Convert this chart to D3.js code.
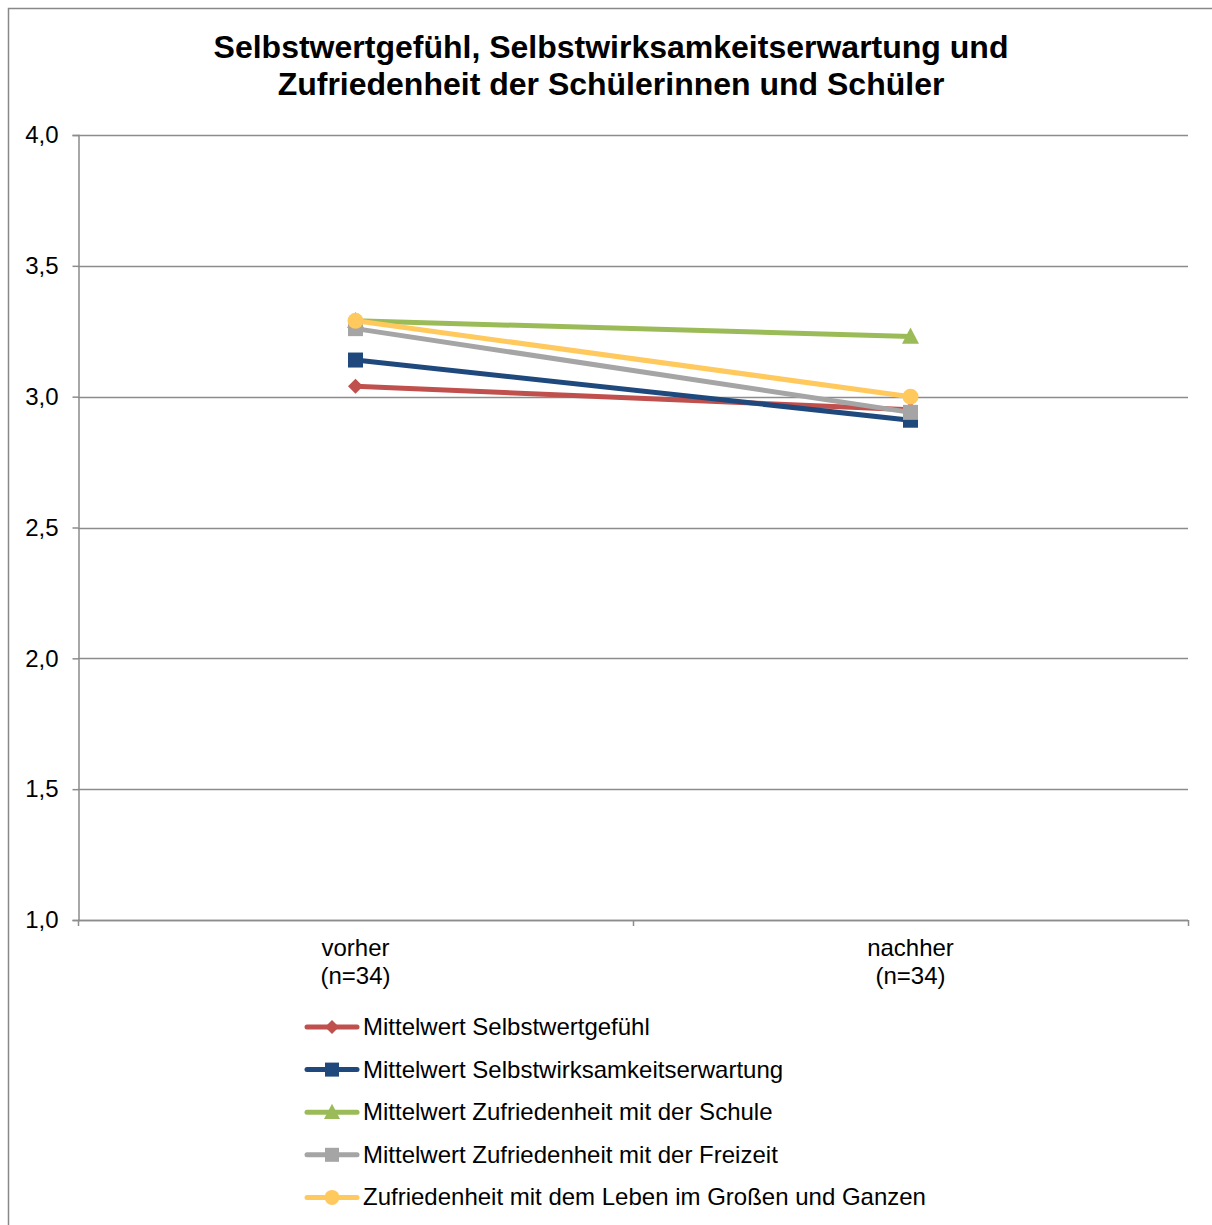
<!DOCTYPE html>
<html>
<head>
<meta charset="utf-8">
<script src="https://cdn.jsdelivr.net/npm/d3@7"></script>
<style>
  html, body { margin: 0; padding: 0; background: #fff; }
  svg { display: block; font-family: "Liberation Sans", Arial, sans-serif; }
</style>
</head>
<body>
<svg id="chart" width="1212" height="1225"></svg>
<script>
// Categories (two lines per label)
const categories = ["vorher (n=34)", "nachher (n=34)"];
const categoryLines = [["vorher", "(n=34)"], ["nachher", "(n=34)"]];

// Series names and mean values
const seriesNames = [
  "Mittelwert Selbstwertgefühl",
  "Mittelwert Selbstwirksamkeitserwartung",
  "Mittelwert Zufriedenheit mit der Schule",
  "Mittelwert Zufriedenheit mit der Freizeit",
  "Zufriedenheit mit dem Leben im Großen und Ganzen"
];
const selbstwert = [3.04, 2.95];
const selbstwirksamkeit = [3.14, 2.91];
const schule = [3.29, 3.23];
const freizeit = [3.26, 2.94];
const leben = [3.29, 3.00];

const yTicks = [1.0, 1.5, 2.0, 2.5, 3.0, 3.5, 4.0];

const seriesColors = ["#C0504D", "#1F497D", "#9BBB59", "#A5A5A5", "#FFC95E"];
const seriesMarkers = ["diamond", "square", "triangle", "square", "circle"];

const series = [selbstwert, selbstwirksamkeit, schule, freizeit, leben].map((v, i) => ({
  name: seriesNames[i], values: v, color: seriesColors[i], marker: seriesMarkers[i]
}));

const FONT = 24;
const svg = d3.select("#chart");

// Outer chart border
svg.append("rect")
  .attr("x", 8.5).attr("y", 8.5).attr("width", 1212).attr("height", 1230)
  .attr("fill", "none").attr("stroke", "#888").attr("stroke-width", 1.5);

// Title
const title = svg.append("text")
  .attr("text-anchor", "middle")
  .attr("font-weight", "bold").attr("font-size", 32).attr("fill", "#000");
title.append("tspan").attr("x", 611).attr("y", 58).text("Selbstwertgefühl, Selbstwirksamkeitserwartung und");
title.append("tspan").attr("x", 611).attr("y", 95).text("Zufriedenheit der Schülerinnen und Schüler");

const plot = { left: 78, right: 1188, top: 135, bottom: 920 };

const x = d3.scaleBand().domain(categories).range([plot.left, plot.right]).padding(0);
const y = d3.scaleLinear().domain([1, 4]).range([plot.bottom, plot.top]);
const cx = c => x(c) + x.bandwidth() / 2;

// Horizontal gridlines
svg.append("g")
  .selectAll("line").data(yTicks).join("line")
  .attr("x1", plot.left).attr("x2", plot.right)
  .attr("y1", d => Math.round(y(d)) + 0.5).attr("y2", d => Math.round(y(d)) + 0.5)
  .attr("stroke", "#8C8C8C").attr("stroke-width", 1.5);

// Y axis
const yAxis = svg.append("g")
  .attr("transform", `translate(${plot.left + 0.5},0)`)
  .call(d3.axisLeft(y).tickValues(yTicks).tickSize(6).tickPadding(14)
    .tickFormat(d => d3.format(".1f")(d).replace(".", ",")));
yAxis.select(".domain").attr("stroke", "#8C8C8C").attr("stroke-width", 1.5);
yAxis.selectAll(".tick line").attr("stroke", "#8C8C8C").attr("stroke-width", 1.5);
yAxis.selectAll(".tick text").attr("font-size", FONT).attr("fill", "#000")
  .attr("font-family", "'Liberation Sans', Arial, sans-serif");

// X axis (ticks at category boundaries)
const xBoundaries = [plot.left, x(categories[1]), plot.right];
svg.append("line")
  .attr("x1", plot.left).attr("x2", plot.right)
  .attr("y1", plot.bottom + 0.5).attr("y2", plot.bottom + 0.5)
  .attr("stroke", "#8C8C8C").attr("stroke-width", 1.5);
svg.append("g").selectAll("line").data(xBoundaries).join("line")
  .attr("x1", d => Math.round(d) + 0.5).attr("x2", d => Math.round(d) + 0.5)
  .attr("y1", plot.bottom).attr("y2", plot.bottom + 6)
  .attr("stroke", "#8C8C8C").attr("stroke-width", 1.5);

// Category labels
svg.append("g").selectAll("text").data(categories).join("text")
  .attr("text-anchor", "middle").attr("font-size", FONT).attr("fill", "#000")
  .each(function(d, i) {
    const t = d3.select(this);
    categoryLines[i].forEach((ln, j) => {
      t.append("tspan").attr("x", cx(d)).attr("y", 956 + j * 28).text(ln);
    });
  });

// Marker drawing
function drawMarker(g, type, color, px, py, size) {
  const h = size / 2;
  if (type === "circle") {
    g.append("circle").attr("cx", px).attr("cy", py).attr("r", h).attr("fill", color);
  } else if (type === "diamond") {
    g.append("path")
      .attr("d", `M0,${-h}L${h},0L0,${h}L${-h},0Z`)
      .attr("transform", `translate(${px},${py})`).attr("fill", color);
  } else if (type === "square") {
    g.append("rect").attr("x", px - h).attr("y", py - h)
      .attr("width", size).attr("height", size).attr("fill", color);
  } else {
    g.append("path")
      .attr("d", `M0,${-h * 1.05}L${h},${h * 0.85}L${-h},${h * 0.85}Z`)
      .attr("transform", `translate(${px},${py})`).attr("fill", color);
  }
}

const line = d3.line().x((d, i) => cx(categories[i])).y(d => y(d));

const markerSize = { diamond: 15, square: 15, triangle: 17, circle: 16 };

series.forEach(s => {
  const g = svg.append("g");
  g.append("path").datum(s.values)
    .attr("d", line).attr("fill", "none")
    .attr("stroke", s.color).attr("stroke-width", 5).attr("stroke-linecap", "round");
  s.values.forEach((v, i) => drawMarker(g, s.marker, s.color, cx(categories[i]), y(v), markerSize[s.marker]));
});

// Legend
const legend = svg.append("g");
series.forEach((s, i) => {
  const ly = 1027 + i * 42.6;
  const g = legend.append("g");
  g.append("line").attr("x1", 307).attr("x2", 357).attr("y1", ly).attr("y2", ly)
    .attr("stroke", s.color).attr("stroke-width", 5).attr("stroke-linecap", "round");
  drawMarker(g, s.marker, s.color, 332, ly, markerSize[s.marker] - 1);
  g.append("text").attr("x", 363).attr("y", ly + 8)
    .attr("font-size", FONT).attr("fill", "#000").text(s.name);
});
</script>
</body>
</html>
